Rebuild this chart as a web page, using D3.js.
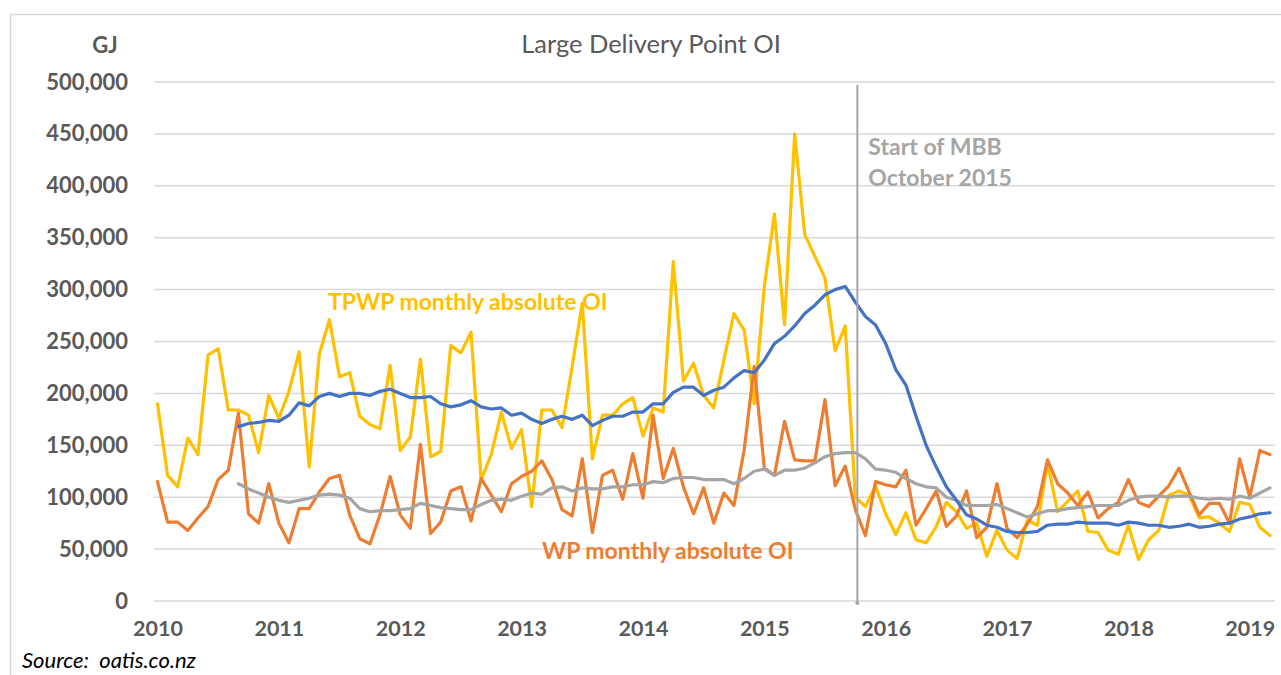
<!DOCTYPE html>
<html>
<head>
<meta charset="utf-8">
<script src="https://cdn.jsdelivr.net/npm/d3@7"></script>
<style>
  html, body { margin: 0; padding: 0; background: #fff; }
  svg { display: block; }
  text { font-family: Lato, "Open Sans", sans-serif; }
</style>
</head>
<body>
<div id="chart"></div>
<script>
// monthly values in thousands of GJ, Jan 2010 .. Mar 2019
const yearLabels = ["2010", "2011", "2012", "2013", "2014", "2015", "2016", "2017", "2018", "2019"];
const yTicks = [0, 50000, 100000, 150000, 200000, 250000, 300000, 350000, 400000, 450000, 500000];

const tpwp = [
  190, 121, 110, 157, 141, 237, 243, 184, 184, 179, 143, 198,
  176, 202, 240, 129, 238, 271, 216, 220, 178, 170, 166, 227,
  145, 158, 233, 139, 144, 246, 239, 259, 117, 141, 182, 147,
  165, 91, 184, 184, 167, 226, 287, 137, 179, 179, 190, 196,
  159, 186, 182, 327, 212, 229, 198, 186, 232, 277, 261, 190,
  303, 373, 266, 450, 353, 332, 311, 241, 265, 100, 91, 111,
  84, 64, 85, 59, 56, 72, 95, 86, 70, 75, 43, 68,
  49, 41, 78, 73, 133, 86, 96, 106, 67, 66, 49, 45,
  73, 40, 59, 68, 102, 106, 102, 80, 81, 75, 67, 95,
  93, 71, 63
];

const wp = [
  115, 76, 76, 68, 80, 91, 117, 126, 181, 84, 75, 113,
  75, 56, 89, 89, 105, 118, 121, 83, 60, 55, 83, 120,
  83, 70, 151, 65, 76, 106, 110, 77, 118, 102, 86, 113,
  120, 125, 135, 117, 88, 82, 137, 66, 121, 126, 98, 142,
  99, 179, 118, 147, 110, 84, 109, 75, 104, 92, 145, 226,
  128, 121, 173, 136, 135, 135, 194, 111, 130, 88, 63, 115,
  112, 110, 126, 73, 89, 106, 72, 82, 106, 61, 71, 113,
  70, 61, 74, 91, 136, 113, 104, 92, 105, 80, 89, 95,
  117, 95, 91, 101, 111, 128, 105, 83, 94, 94, 75, 137,
  100, 145, 141
];

// 12 month averages, first value is Sep 2010
const tpwpAvg = [
  168, 171, 172, 174,
  173, 179, 191, 188, 197, 200, 197, 200, 200, 198, 202, 204,
  200, 196, 196, 197, 190, 187, 189, 193, 187, 185, 186, 179,
  181, 175, 171, 175, 178, 175, 179, 169, 174, 178, 178, 182,
  182, 190, 190, 201, 206, 206, 198, 203, 206, 215, 222, 220,
  232, 248, 255, 265, 277, 285, 295, 300, 303, 288, 274, 266,
  248, 223, 208, 178, 150, 129, 110, 97, 83, 79, 73, 71,
  67, 66, 66, 67, 73, 74, 74, 76, 75, 75, 75, 73,
  76, 75, 73, 73, 71, 72, 74, 71, 72, 74, 75, 79,
  81, 84, 85
];

const wpAvg = [
  113, 108, 104, 100,
  97, 95, 97, 99, 102, 103, 102, 99, 89, 86, 87, 87,
  88, 89, 94, 92, 90, 89, 88, 88, 93, 97, 98, 97,
  101, 104, 103, 109, 110, 106, 109, 108, 108, 110, 110, 112,
  112, 115, 114, 118, 119, 119, 117, 117, 117, 113, 118, 125,
  127, 121, 126, 126, 128, 133, 139, 142, 143, 143, 137, 127,
  126, 124, 118, 113, 110, 109, 100, 97, 92, 92, 92, 93,
  89, 85, 81, 84, 87, 87, 89, 90, 91, 92, 92, 92,
  97, 100, 101, 101, 100, 101, 101, 99, 98, 99, 98, 101,
  99, 104, 109
];

const avgStart = 8;      // averages begin in month 8 (Sep 2010)
const mbbMonth = 69.2;   // start of MBB, October 2015

const width = 1281, height = 675;
const plot = { left: 154, right: 1275, top: 82, bottom: 601 };

const svg = d3.select("#chart").append("svg")
  .attr("width", width)
  .attr("height", height);

// outer frame of the pasted chart
svg.append("path")
  .attr("d", `M10.5,${height} V14.5 H${width}`)
  .attr("fill", "none")
  .attr("stroke", "#d9d9d9")
  .attr("stroke-width", 1.5);

const x = d3.scaleLinear()
  .domain([0, tpwp.length - 1])
  .range([157.5, 1270]);

const y = d3.scaleLinear()
  .domain([0, 500000])
  .range([plot.bottom, plot.top]);

// grid
svg.append("g")
  .selectAll("line")
  .data(yTicks)
  .join("line")
  .attr("x1", plot.left)
  .attr("x2", plot.right)
  .attr("y1", d => y(d))
  .attr("y2", d => y(d))
  .attr("stroke", "#d9d9d9")
  .attr("stroke-width", 1.5);

// y axis labels
svg.append("g")
  .attr("transform", "translate(128,0)")
  .call(d3.axisLeft(y).tickValues(yTicks).tickSize(0).tickPadding(0).tickFormat(d3.format(",")))
  .call(g => g.select(".domain").remove())
  .call(g => g.attr("font-family", null).attr("font-size", null))
  .selectAll("text")
  .attr("fill", "#595959")
  .attr("font-size", 22)
  .attr("font-weight", "bold");

// x axis labels
svg.append("g")
  .attr("transform", `translate(0,${plot.bottom})`)
  .call(d3.axisBottom(x)
    .tickValues(yearLabels.map((d, i) => i * 12))
    .tickSize(0)
    .tickPadding(20)
    .tickFormat((d, i) => yearLabels[i]))
  .call(g => g.select(".domain").remove())
  .call(g => g.attr("font-family", null).attr("font-size", null))
  .selectAll("text")
  .attr("fill", "#595959")
  .attr("font-size", 21.5)
  .attr("font-weight", "bold");

const line = d3.line()
  .x(d => x(d.i))
  .y(d => y(d.v * 1000));

const toPoints = (arr, offset) => arr.map((v, k) => ({ i: k + offset, v }));

const series = [
  { values: toPoints(tpwp, 0), color: "#FFC000" },
  { values: toPoints(wp, 0), color: "#ED7D31" },
  { values: toPoints(wpAvg, avgStart), color: "#A5A5A5" },
  { values: toPoints(tpwpAvg, avgStart), color: "#4472C4" }
];

svg.append("g")
  .selectAll("path")
  .data(series)
  .join("path")
  .attr("d", d => line(d.values))
  .attr("fill", "none")
  .attr("stroke", d => d.color)
  .attr("stroke-width", 3.2)
  .attr("stroke-linejoin", "round")
  .attr("stroke-linecap", "round");

// MBB marker
svg.append("line")
  .attr("x1", x(mbbMonth))
  .attr("x2", x(mbbMonth))
  .attr("y1", 85)
  .attr("y2", y(0) + 2)
  .attr("stroke", "#A5A5A5")
  .attr("stroke-width", 2);

svg.append("circle")
  .attr("cx", x(mbbMonth))
  .attr("cy", y(0) + 2)
  .attr("r", 2)
  .attr("fill", "#A5A5A5");

const mbbText = svg.append("text")
  .attr("x", x(mbbMonth) + 11)
  .attr("y", 155)
  .attr("fill", "#A5A5A5")
  .attr("font-size", 23)
  .attr("font-weight", "bold");
mbbText.append("tspan").text("Start of MBB");
mbbText.append("tspan").attr("x", x(mbbMonth) + 11).attr("dy", 31).text("October 2015");

// series labels
svg.append("text")
  .attr("x", 328)
  .attr("y", 310)
  .attr("fill", "#FFC000")
  .attr("font-size", 23)
  .attr("font-weight", "bold")
  .text("TPWP monthly absolute OI");

svg.append("text")
  .attr("x", 542)
  .attr("y", 559)
  .attr("fill", "#ED7D31")
  .attr("font-size", 23)
  .attr("font-weight", "bold")
  .text("WP monthly absolute OI");

// titles
svg.append("text")
  .attr("x", 651)
  .attr("y", 53)
  .attr("text-anchor", "middle")
  .attr("fill", "#595959")
  .attr("font-size", 25.5)
  .text("Large Delivery Point OI");

svg.append("text")
  .attr("x", 105)
  .attr("y", 53)
  .attr("text-anchor", "middle")
  .attr("fill", "#595959")
  .attr("font-size", 22)
  .attr("font-weight", "bold")
  .text("GJ");

svg.append("text")
  .attr("x", 22)
  .attr("y", 668)
  .attr("fill", "#000")
  .attr("font-size", 22)
  .attr("font-style", "italic")
  .style("white-space", "pre")
  .text("Source:  oatis.co.nz");
</script>
</body>
</html>
